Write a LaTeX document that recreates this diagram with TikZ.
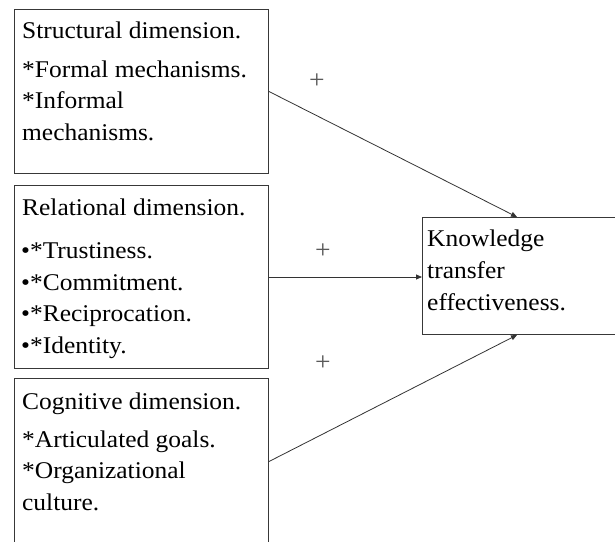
\documentclass[tikz,border=0pt]{standalone}
\usepackage{fontspec}
\setmainfont{Liberation Serif}[FakeStretch=1.06]
\usetikzlibrary{arrows.meta}

\tikzset{
  frame/.style={draw=black!78, line width=1pt, rectangle, inner sep=0pt, anchor=north west},
  txt/.style={anchor=base west, inner sep=0pt, font=\fontsize{24}{31.7}\selectfont},
  sign/.style={anchor=center, inner sep=0pt, text=black!65, font=\fontsize{26}{28}\selectfont},
  link/.style={draw=black!80, line width=0.8pt, -{Triangle[length=6pt,width=5pt]}}
}

\begin{document}
\begin{tikzpicture}[x=1pt, y=-1pt]
  \useasboundingbox (0,0) rectangle (615,541);
  \fill[white] (0,0) rectangle (615,541);
  \clip (0,0) rectangle (615,541);

  % the three dimension boxes
  \node[frame, minimum width=254pt, minimum height=164pt] (b1) at (14,9) {};
  \node[frame, minimum width=254pt, minimum height=183pt] (b2) at (14,185) {};
  \node[frame, minimum width=254pt, minimum height=166pt] (b3) at (14,378) {};

  % outcome box
  \node[frame, minimum width=210pt, minimum height=117pt] (k) at (422,217) {};

  % structural dimension
  \node[txt] (t1a) at (22,38) {Structural dimension.};
  \node[txt] (t1b) at (22,77) {*Formal mechanisms.};
  \node[txt] (t1c) at (22,108.7) {*Informal};
  \node[txt] (t1d) at (22,140.4) {mechanisms.};

  % relational dimension
  \node[txt] (t2a) at (22,215) {Relational dimension.};
  \node[txt] (t2b) at (21,258.3) {•*Trustiness.};
  \node[txt] (t2c) at (21,290) {•*Commitment.};
  \node[txt] (t2d) at (21,321.7) {•*Reciprocation.};
  \node[txt] (t2e) at (21,353.3) {•*Identity.};

  % cognitive dimension
  \node[txt] (t3a) at (22,409) {Cognitive dimension.};
  \node[txt] (t3b) at (22,447) {*Articulated goals.};
  \node[txt] (t3c) at (22,478.5) {*Organizational};
  \node[txt] (t3d) at (22,510) {culture.};

  % outcome text
  \node[txt] (tka) at (427,246.5) {Knowledge};
  \node[txt] (tkb) at (427,278.2) {transfer};
  \node[txt] (tkc) at (427,310) {effectiveness.};

  % arrow end points on the outcome box
  \coordinate (ktop) at ([xshift=95pt]k.north west);
  \coordinate (kbot) at ([xshift=95pt]k.south west);

  \draw[link] (b1.east) -- (ktop);
  \draw[link] (b2.east) -- (b2.east -| k.west);
  \draw[link] (b3.east) -- (kbot);

  % signs of the effects
  \node[sign] (p1) at (317,81) {+};
  \node[sign] (p2) at (323,251) {+};
  \node[sign] (p3) at (323,363) {+};
\end{tikzpicture}
\end{document}
